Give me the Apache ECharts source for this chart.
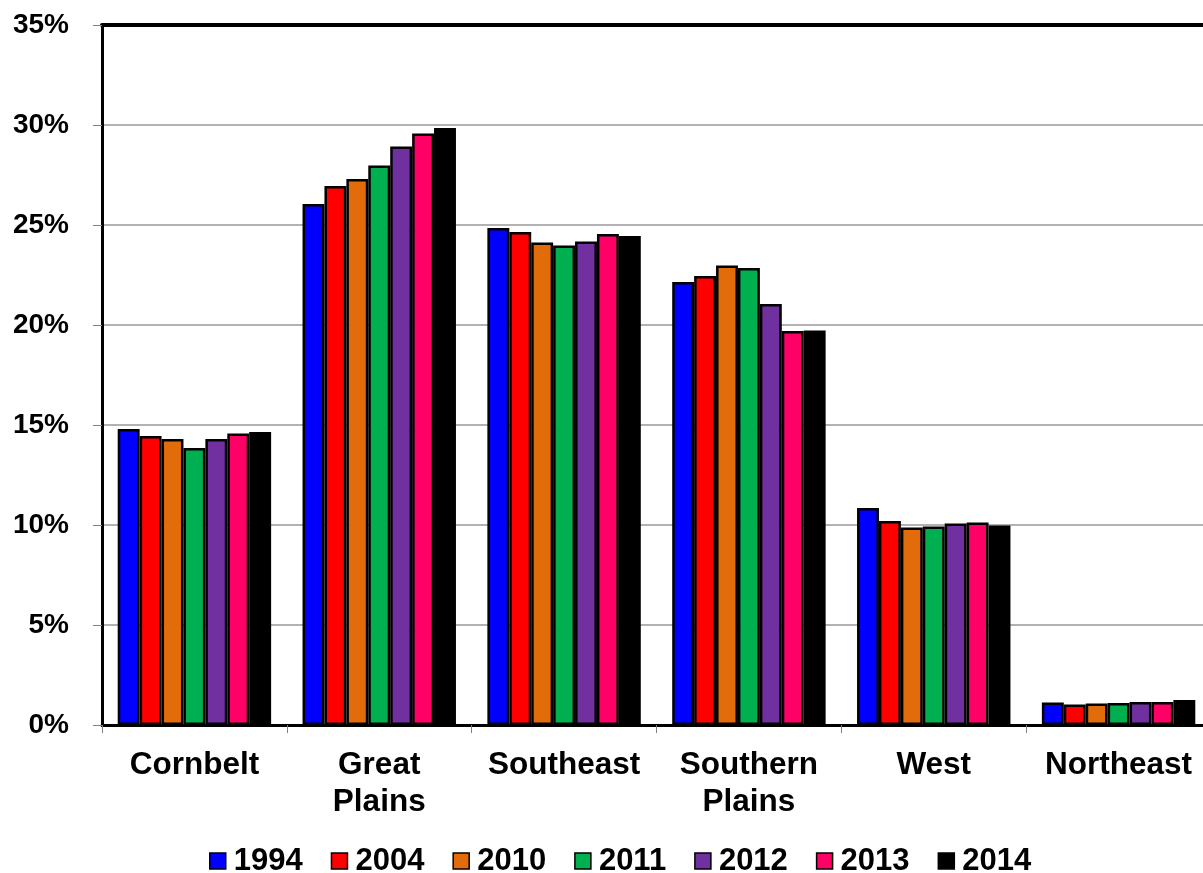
<!DOCTYPE html>
<html>
<head>
<meta charset="utf-8">
<script src="https://cdn.jsdelivr.net/npm/echarts@6/dist/echarts.min.js"></script>
<style>
html,body{margin:0;padding:0;background:#fff;}
#chart{width:1203px;height:873px;}
</style>
</head>
<body>
<div id="chart"></div>
<script>
const categories = ['Cornbelt', 'Great\nPlains', 'Southeast', 'Southern\nPlains', 'West', 'Northeast'];
const years = ['1994', '2004', '2010', '2011', '2012', '2013', '2014'];
const colors = ['#0000FF', '#FF0000', '#E36C0A', '#00B050', '#7030A0', '#FF0066', '#000000'];
const yTicks = { min: 0, max: 35, interval: 5 };

const s1994 = [14.8, 26.05, 24.85, 22.15, 10.85, 1.12];
const s2004 = [14.45, 26.95, 24.65, 22.45, 10.2, 1.03];
const s2010 = [14.3, 27.3, 24.12, 22.97, 9.88, 1.08];
const s2011 = [13.85, 27.97, 23.98, 22.85, 9.92, 1.1];
const s2012 = [14.3, 28.93, 24.18, 21.05, 10.07, 1.15];
const s2013 = [14.57, 29.57, 24.55, 19.7, 10.12, 1.15];
const s2014 = [14.65, 29.85, 24.45, 19.72, 9.98, 1.25];
const seriesValues = [s1994, s2004, s2010, s2011, s2012, s2013, s2014];

const font = '"Liberation Sans", Arial, sans-serif';
const chart = echarts.init(document.getElementById('chart'), null, { renderer: 'canvas' });

chart.setOption({
  animation: false,
  backgroundColor: '#ffffff',
  grid: { left: 102, top: 25, width: 1109, height: 700, containLabel: false, outerBoundsMode: 'none' },
  legend: {
    data: years,
    top: 840,
    left: 204,
    icon: 'rect',
    itemWidth: 16,
    itemHeight: 16,
    itemGap: 28,
    itemStyle: { borderColor: '#000', borderWidth: 1.5 },
    textStyle: { fontFamily: font, fontWeight: 'bold', fontSize: 31, lineHeight: 32, color: '#000', padding: [0, 0, 0, 3] }
  },
  xAxis: [{
    type: 'category',
    data: categories,
    axisLine: { show: true, lineStyle: { color: '#000', width: 3 } },
    axisTick: { show: true, length: 8, lineStyle: { color: '#808080', width: 1 } },
    axisLabel: { fontFamily: font, fontWeight: 'bold', fontSize: 31.5, color: '#000', margin: 22, lineHeight: 37, interval: 0 }
  }, {
    type: 'category',
    position: 'top',
    data: categories,
    axisLine: { show: true, lineStyle: { color: '#000', width: 4 } },
    axisTick: { show: false },
    axisLabel: { show: false }
  }],
  yAxis: {
    type: 'value',
    min: yTicks.min, max: yTicks.max, interval: yTicks.interval,
    axisLine: { show: true, lineStyle: { color: '#000', width: 3 } },
    axisTick: { show: true, length: 9, lineStyle: { color: '#808080', width: 1 } },
    splitLine: { show: true, lineStyle: { color: '#999999', width: 1.5 } },
    axisLabel: { formatter: '{value}%', fontFamily: font, fontWeight: 'bold', fontSize: 28, color: '#000', margin: 33 }
  },
  series: years.map((y, i) => ({
    name: y,
    type: 'bar',
    data: seriesValues[i],
    barGap: '0%',
    barCategoryGap: '17%',
    itemStyle: { color: colors[i], borderColor: '#000', borderWidth: 2.5 }
  }))
});
</script>
</body>
</html>
